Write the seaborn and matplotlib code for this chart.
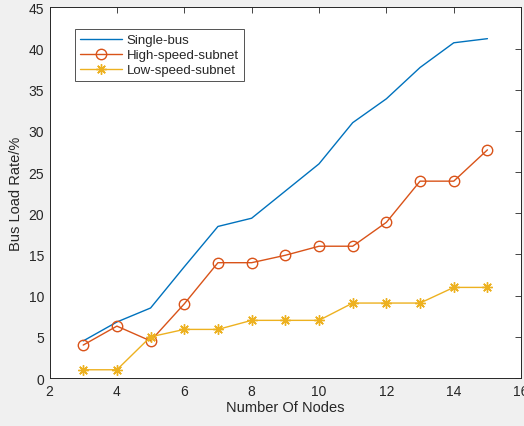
import numpy as np
import pandas as pd
import matplotlib.pyplot as plt
import seaborn as sns

nodes = [3, 4, 5, 6, 7, 8, 9, 10, 11, 12, 13, 14, 15]
single_bus = [4.5, 6.8, 8.5, 13.5, 18.4, 19.4, 22.7, 26.0, 31.0, 33.9, 37.7, 40.7, 41.2]
high_speed = [4.0, 6.3, 4.5, 9.0, 14.0, 14.0, 14.9, 16.0, 16.0, 18.9, 23.9, 23.9, 27.7]
low_speed = [1.0, 1.0, 5.0, 5.9, 5.9, 7.0, 7.0, 7.0, 9.1, 9.1, 9.1, 11.0, 11.0]

sns.set_style("white")
plt.rcParams['font.family'] = ['Arial', 'Liberation Sans', 'DejaVu Sans']

fig = plt.figure(figsize=(5.24, 4.27), dpi=100, facecolor='#f0f0f0')
ax = fig.add_axes([0.0945, 0.1124, 0.9, 0.868])
ax.set_facecolor('white')

sns.lineplot(x=nodes, y=single_bus, ax=ax, color='#0072BD', lw=1.0, label='Single-bus')
sns.lineplot(x=nodes, y=high_speed, ax=ax, color='#D95319', lw=1.0, marker='o',
             markersize=7.5, markerfacecolor='none', markeredgecolor='#D95319',
             markeredgewidth=1.0, label='High-speed-subnet')
sns.lineplot(x=nodes, y=low_speed, ax=ax, color='#EDB120', lw=1.0, marker=(8, 2, 0),
             markersize=7.5, markeredgecolor='#EDB120', markeredgewidth=1.0,
             label='Low-speed-subnet')

ax.set_xlim(2, 16)
ax.set_ylim(0, 45)
ax.set_xticks(range(2, 17, 2))
ax.set_yticks(range(0, 46, 5))
ax.set_xlabel('Number Of Nodes', fontsize=10.5, color='#262626', labelpad=2)
ax.set_ylabel('Bus Load Rate/%', fontsize=10.5, color='#262626', labelpad=4)
ax.tick_params(direction='in', top=True, right=True, length=4, width=0.6,
               labelsize=10, colors='#262626', pad=4)
for s in ax.spines.values():
    s.set_color('#262626')
    s.set_linewidth(0.7)

leg = ax.legend(loc='upper left', bbox_to_anchor=(0.054, 0.942), fontsize=9.5,
                frameon=True, fancybox=False, edgecolor='#262626',
                handlelength=3.2, borderpad=0.4, labelspacing=0.2, handletextpad=0.3,
                borderaxespad=0)
leg.get_frame().set_linewidth(0.7)

plt.savefig('out.png', dpi=100, facecolor=fig.get_facecolor())
